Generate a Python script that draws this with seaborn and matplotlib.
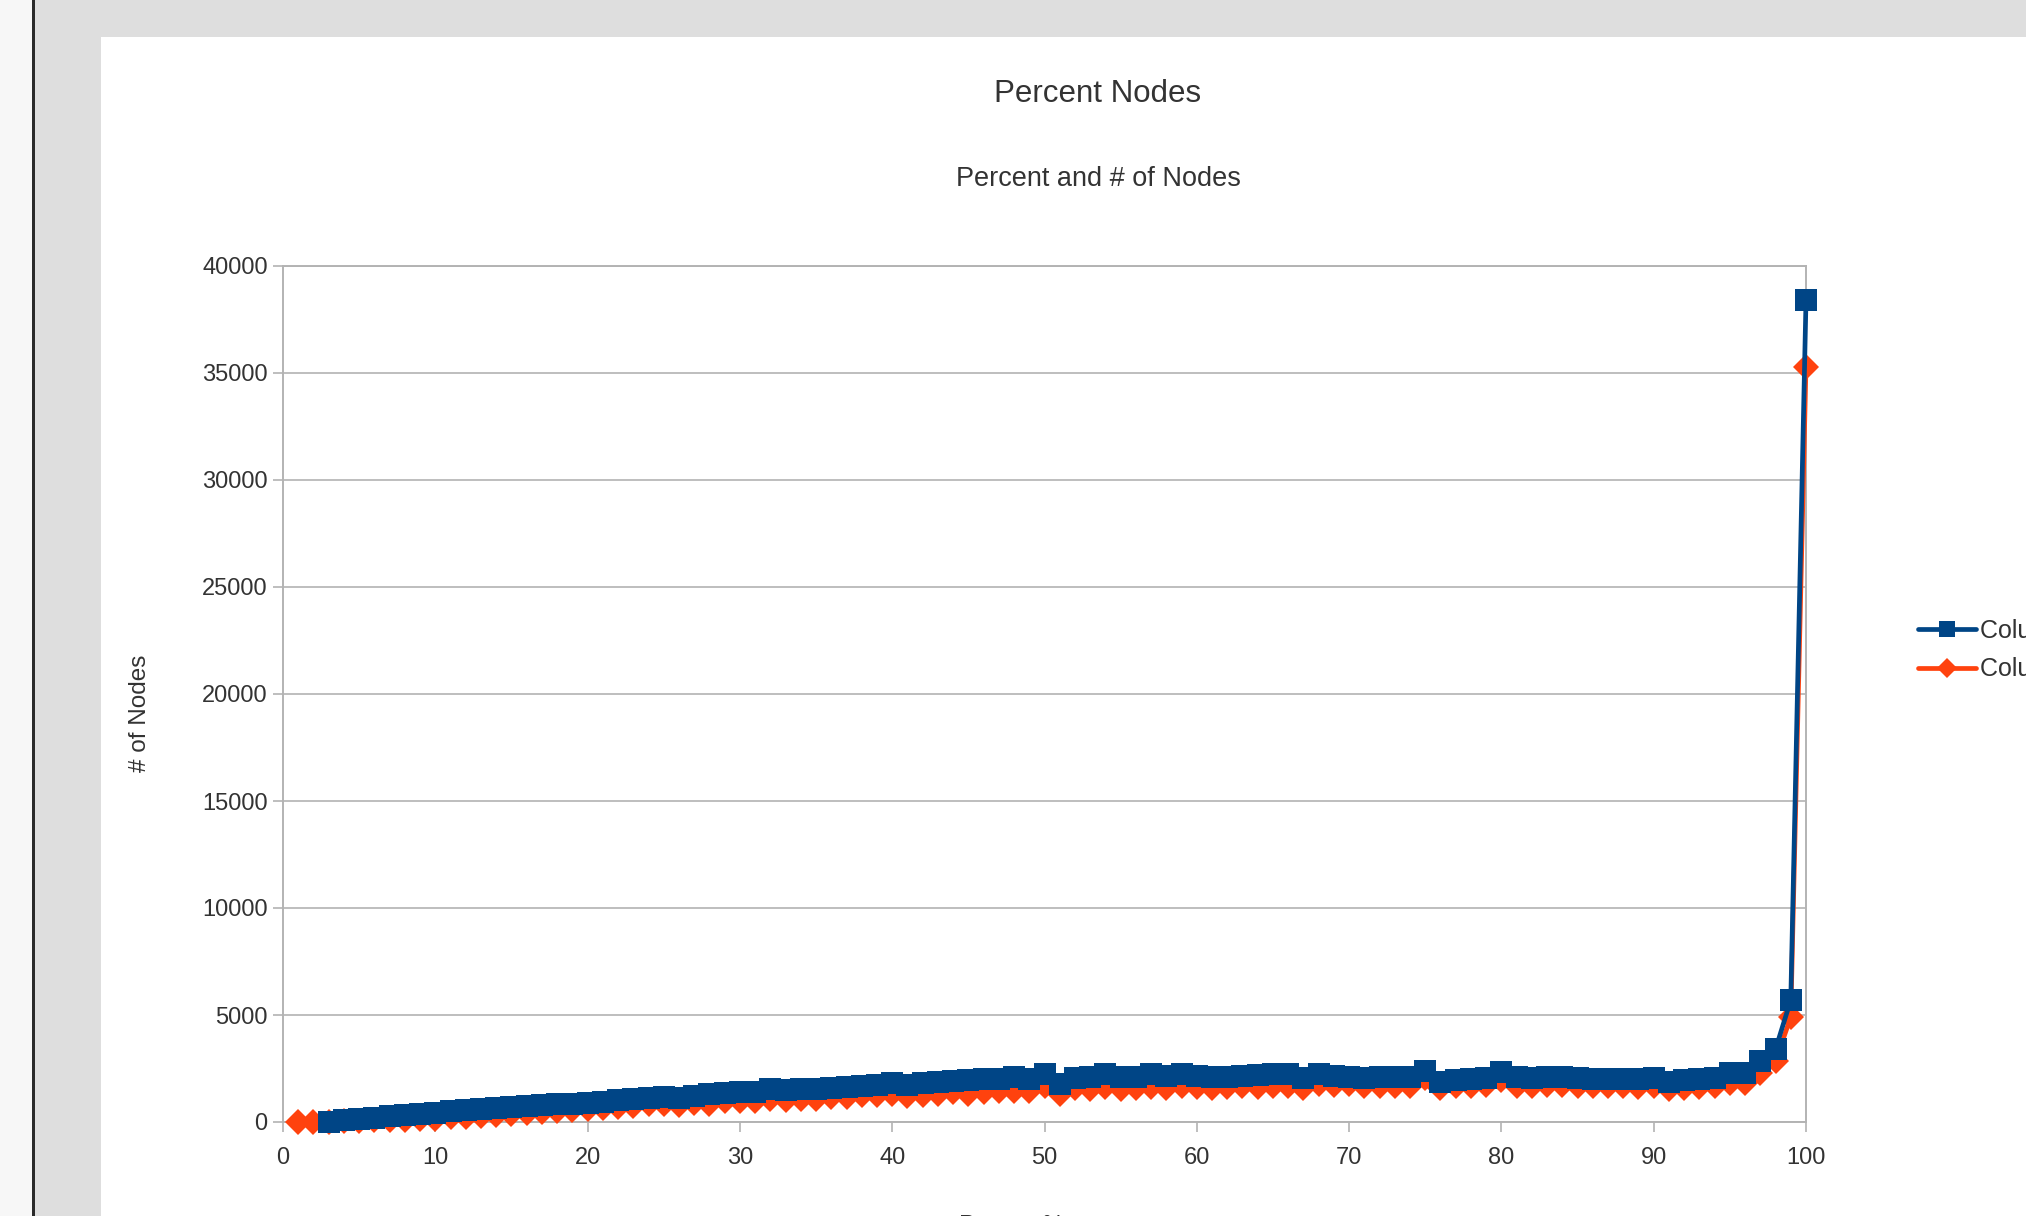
import numpy as np
import pandas as pd
import matplotlib
matplotlib.use("Agg")
import matplotlib.pyplot as plt
from matplotlib.patches import Rectangle
import seaborn as sns

# ---------------- data ----------------
percent = list(range(1, 101))
column_b = [np.nan, np.nan, 20, 80, 140, 200, 260, 320, 380, 440,
            500, 550, 600, 650, 700, 740, 780, 820, 860, 890,
            950, 1010, 1060, 1120, 1170, 1120, 1220, 1290, 1370, 1390,
            1400, 1525, 1480, 1530, 1560, 1590, 1630, 1680, 1720, 1830,
            1710, 1820, 1890, 1930, 1970, 2000, 2020, 2090, 2020, 2250,
            1790, 2050, 2090, 2220, 2090, 2120, 2220, 2170, 2220, 2170,
            2120, 2120, 2170, 2200, 2220, 2220, 2050, 2220, 2170, 2090,
            2050, 2090, 2090, 2090, 2400, 1850, 1940, 2020, 2050, 2330,
            2090, 2050, 2125, 2090, 2050, 2020, 2020, 2020, 2000, 2050,
            1850, 1970, 2020, 2050, 2280, 2280, 2830, 3400, 5700, 38400]
column_c = [0, 0, 20, 40, 60, 90, 100, 110, 120, 130,
            215, 250, 290, 330, 370, 420, 470, 520, 580, 630,
            670, 720, 770, 830, 860, 790, 910, 830, 985, 985,
            985, 1060, 1030, 1060, 1060, 1190, 1190, 1250, 1250, 1290,
            1200, 1250, 1330, 1380, 1330, 1420, 1440, 1470, 1440, 1700,
            1290, 1600, 1525, 1630, 1525, 1600, 1630, 1600, 1680, 1630,
            1600, 1630, 1680, 1630, 1680, 1680, 1600, 1755, 1720, 1755,
            1680, 1680, 1680, 1680, 2060, 1600, 1680, 1700, 1720, 1950,
            1680, 1680, 1720, 1720, 1680, 1660, 1680, 1660, 1630, 1700,
            1530, 1580, 1650, 1660, 1830, 1800, 2300, 2850, 4900, 35300]
series_names = ["Column B", "Column C"]
x_ticks = list(range(0, 101, 10))
y_ticks = list(range(0, 40001, 5000))

title = "Percent Nodes"
subtitle = "Percent and # of Nodes"
x_label = "Percent%"
y_label = "# of Nodes"

# ---------------- style ----------------
sns.set_theme(style="white")
plt.rcParams["font.family"] = ["Liberation Sans", "DejaVu Sans"]
TXT = "#333333"
BLUE = "#004586"
ORANGE = "#ff420e"
GRID = "#b3b3b3"

W, H = 2026, 1216
fig = plt.figure(figsize=(W / 100, H / 100), dpi=100)
fig.patch.set_facecolor("white")

def fx(px):
    return px / W

def fy(py):
    return 1 - py / H

# window chrome: light left strip, dark line, grey surround, white page
fig.patches.append(Rectangle((0, 0), 1, 1, transform=fig.transFigure,
                             facecolor="#dedede", edgecolor="none", zorder=-10))
fig.patches.append(Rectangle((0, 0), fx(33), 1, transform=fig.transFigure,
                             facecolor="#f7f7f7", edgecolor="none", zorder=-9))
fig.patches.append(Rectangle((fx(32), 0), fx(3), 1, transform=fig.transFigure,
                             facecolor="#2a2a2a", edgecolor="none", zorder=-8))
fig.patches.append(Rectangle((fx(101), 0), 1, fy(37), transform=fig.transFigure,
                             facecolor="white", edgecolor="none", zorder=-7))

ax = fig.add_axes([fx(283), fy(1122), fx(1806) - fx(283), fy(266) - fy(1122)])
ax.set_facecolor("white")

df_b = pd.DataFrame({"x": percent, "y": column_b})
df_c = pd.DataFrame({"x": percent, "y": column_c})

sns.lineplot(data=df_c, x="x", y="y", ax=ax, color=ORANGE, lw=3.4,
             marker="D", markersize=13, markeredgewidth=0,
             label=series_names[1], sort=False, zorder=3, clip_on=False)
sns.lineplot(data=df_b, x="x", y="y", ax=ax, color=BLUE, lw=3.4,
             marker="s", markersize=16, markeredgewidth=0,
             label=series_names[0], sort=False, zorder=4, clip_on=False)

ax.set_xlim(0, 100)
ax.set_ylim(0, 40000)
ax.set_xticks(x_ticks)
ax.set_yticks(y_ticks)
ax.set_xticklabels([str(v) for v in x_ticks])
ax.set_yticklabels([str(v) for v in y_ticks])
ax.set_xlabel("")
ax.set_ylabel("")
ax.yaxis.grid(True, color=GRID, lw=1.2)
ax.xaxis.grid(False)
ax.set_axisbelow(True)
for s in ax.spines.values():
    s.set_color(GRID)
    s.set_linewidth(1.4)
    s.set_zorder(0.5)
ax.tick_params(axis="both", which="major", direction="out", length=7,
               width=1.2, color=GRID, labelsize=17, labelcolor=TXT)
ax.tick_params(axis="y", left=True, pad=4)
ax.tick_params(axis="x", bottom=True, pad=11)

# legend (cut off on the right like the screenshot)
handles, labels = ax.get_legend_handles_labels()
order = [labels.index(series_names[0]), labels.index(series_names[1])]
ax.legend_.remove()
fig.legend([handles[i] for i in order], [labels[i] for i in order],
           loc="center left", bbox_to_anchor=(fx(1908), fy(650)),
           frameon=False, fontsize=18, handlelength=2.3, handletextpad=0.2,
           labelspacing=0.6, borderaxespad=0, labelcolor=TXT, markerscale=0.75)

fig.text(fx(1098), fy(94), title, ha="center", va="center", fontsize=22.5, color=TXT)
fig.text(fx(1098), fy(179), subtitle, ha="center", va="center", fontsize=19.5, color=TXT)
fig.text(fx(140), fy(713), y_label, ha="center", va="center", rotation=90,
         fontsize=17.5, color=TXT)
fig.text(fx(1012), fy(1226), x_label, ha="center", va="center", fontsize=17.5, color=TXT)

fig.savefig("out.png", dpi=100)
